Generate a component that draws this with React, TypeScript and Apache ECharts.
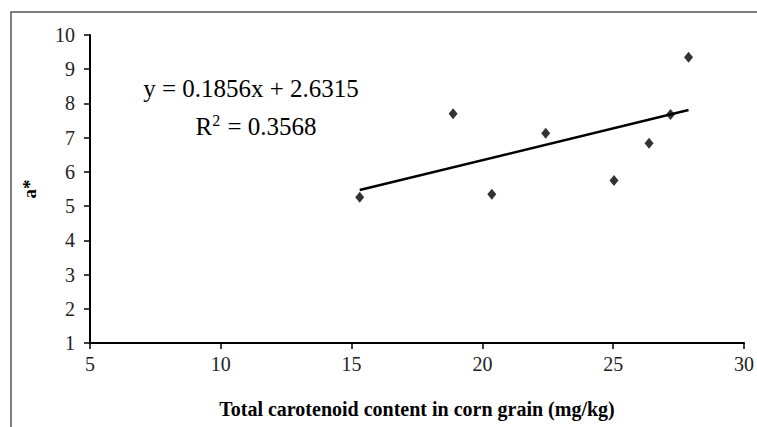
import React, { useEffect, useRef } from "react";
import * as echarts from "echarts";

const carotenoid = [15.31, 18.88, 20.36, 22.42, 25.03, 26.37, 27.19, 27.88];
const aStar = [5.26, 7.7, 5.35, 7.13, 5.75, 6.84, 7.68, 9.35];
const slope = 0.1856;
const intercept = 2.6315;
const equationText = "y = 0.1856x + 2.6315";
const r2Value = "0.3568";
const xTicks = [5, 10, 15, 20, 25, 30];
const yTicks = [1, 2, 3, 4, 5, 6, 7, 8, 9, 10];

const SERIF = "'Liberation Serif', 'Times New Roman', serif";

export default function App() {
  const ref = useRef<HTMLDivElement>(null);
  useEffect(() => {
    if (!ref.current) return;
    const chart = echarts.init(ref.current, null, { renderer: "svg" });
    const xMin = Math.min(...carotenoid);
    const xMax = Math.max(...carotenoid);
    const trend = [
      [xMin, slope * xMin + intercept],
      [xMax, slope * xMax + intercept],
    ];
    chart.setOption({
      animation: false,
      backgroundColor: "#ffffff",
      grid: { left: 90, right: 8, top: 35, bottom: 84, containLabel: false },
      xAxis: {
        type: "value",
        min: xTicks[0],
        max: xTicks[xTicks.length - 1],
        interval: 5,
        name: "Total carotenoid content in corn grain (mg/kg)",
        nameLocation: "middle",
        nameGap: 56,
        nameTextStyle: { fontFamily: SERIF, fontWeight: "bold", fontSize: 20, color: "#000" },
        axisLine: { lineStyle: { color: "#000", width: 2 } },
        axisTick: { show: true, inside: false, length: 6, lineStyle: { color: "#000", width: 1.5 } },
        axisLabel: { fontFamily: SERIF, fontSize: 20, color: "#222", margin: 11 },
        splitLine: { show: false },
      },
      yAxis: {
        type: "value",
        min: yTicks[0],
        max: yTicks[yTicks.length - 1],
        interval: 1,
        name: "a*",
        nameLocation: "middle",
        nameGap: 51,
        nameRotate: 90,
        nameTextStyle: { fontFamily: SERIF, fontWeight: "bold", fontSize: 19, color: "#000" },
        axisLine: { show: true, lineStyle: { color: "#000", width: 2 } },
        axisTick: { show: true, inside: false, length: 6, lineStyle: { color: "#000", width: 1.5 } },
        axisLabel: { fontFamily: SERIF, fontSize: 20, color: "#222", margin: 15 },
        splitLine: { show: false },
      },
      graphic: [
        {
          type: "rect",
          shape: { x: 11, y: 12, width: 900, height: 600 },
          style: { fill: "none", stroke: "#555", lineWidth: 1.5 },
          silent: true,
          z: -10,
        },
        {
          type: "text",
          x: 251,
          y: 88,
          style: {
            text: equationText,
            fontFamily: SERIF,
            fontSize: 25,
            fill: "#000",
            align: "center",
            verticalAlign: "middle",
          },
        },
        {
          type: "text",
          x: 256,
          y: 126,
          style: {
            text: "R{sup|2} = " + r2Value,
            fontFamily: SERIF,
            fontSize: 25,
            fill: "#000",
            align: "center",
            verticalAlign: "middle",
            rich: {
              sup: { fontFamily: SERIF, fontSize: 16, verticalAlign: "top", padding: [0, 1, 12, 0], fill: "#000" },
            },
          },
        },
      ],
      series: [
        {
          type: "scatter",
          data: carotenoid.map((x, i) => [x, aStar[i]]),
          symbol: "diamond",
          symbolSize: [9, 11],
          itemStyle: { color: "#000" },
          z: 3,
        },
        {
          type: "line",
          data: trend,
          symbol: "none",
          lineStyle: { color: "#000", width: 2.5 },
          z: 2,
        },
      ],
    });
    return () => chart.dispose();
  }, []);
  return (
    <div
      ref={ref}
      style={{ position: "fixed", left: 0, top: 0, width: 757, height: 427, background: "#fff" }}
    />
  );
}
